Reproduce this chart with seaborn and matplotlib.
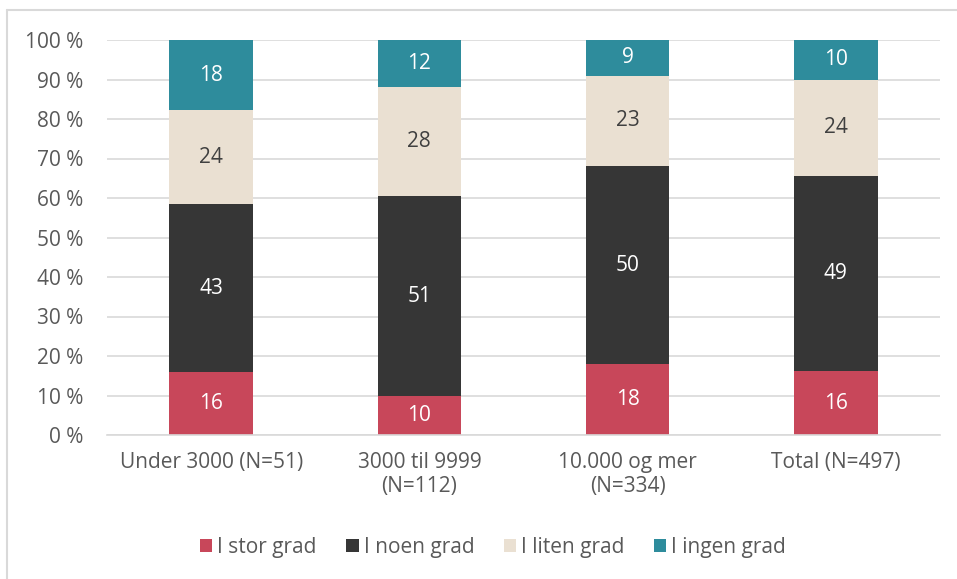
import numpy as np
import pandas as pd
import seaborn as sns
import matplotlib.pyplot as plt
from matplotlib.lines import Line2D
from matplotlib.patches import Patch

groups = ['Under 3000 (N=51)', '3000 til 9999\n(N=112)',
          '10.000 og mer\n(N=334)', 'Total (N=497)']
series = ['I stor grad', 'I noen grad', 'I liten grad', 'I ingen grad']
stor = [16, 10, 18, 16]
noen = [43, 51, 50, 49]
liten = [24, 28, 23, 24]
ingen = [18, 12, 9, 10]
colors = ['#C8475A', '#363636', '#EAE0D2', '#2E8C9C']
text_colors = ['white', 'white', '#404040', 'white']

sns.set_style('white')
plt.rcParams['font.family'] = ['Open Sans', 'DejaVu Sans']

vals = np.array([stor, noen, liten, ingen], dtype=float)
share = vals / vals.sum(axis=0) * 100
cum = share.cumsum(axis=0)

fig = plt.figure(figsize=(9.57, 5.79), dpi=100)
ax = fig.add_axes([107 / 957, 1 - 435 / 579, 833 / 957, 395 / 579])

# draw cumulative bars from the top series down so they stack
for i in reversed(range(len(series))):
    df = pd.DataFrame({'group': groups, 'value': cum[i]})
    sns.barplot(data=df, x='group', y='value', color=colors[i], width=0.4,
                saturation=1, linewidth=0, edgecolor='none', ax=ax, zorder=2)

for j in range(len(groups)):
    for i in range(len(series)):
        mid = cum[i, j] - share[i, j] / 2
        ax.text(j, mid, f'{int(vals[i, j])}', ha='center', va='center',
                color=text_colors[i], fontsize=15)

ax.set_xlim(-0.5, 3.5)
ax.set_ylim(0, 100)
ax.set_yticks(range(0, 101, 10))
ax.set_yticklabels([f'{t} %' for t in range(0, 101, 10)])
ax.set_xlabel('')
ax.set_ylabel('')
ax.yaxis.grid(True, color='#D9D9D9', linewidth=1.2, zorder=0)
ax.set_axisbelow(True)
for s in ['top', 'right', 'left']:
    ax.spines[s].set_visible(False)
ax.spines['bottom'].set_color('#D9D9D9')
ax.spines['bottom'].set_linewidth(1.2)
ax.tick_params(axis='both', length=0, labelsize=15, labelcolor='#595959')
ax.tick_params(axis='y', pad=17)
ax.tick_params(axis='x', pad=12)

handles = [Patch(facecolor=c, edgecolor='none') for c in colors]
fig.legend(handles, series, loc='center', ncol=4,
           bbox_to_anchor=(493 / 957, 1 - 547 / 579), frameon=False,
           fontsize=15, labelcolor='#595959', handlelength=0.6,
           handleheight=0.6, handletextpad=0.25, columnspacing=1.4)

# thin frame around the chart
fig.add_artist(Line2D([7 / 957, 1], [1 - 10 / 579, 1 - 10 / 579],
                      color='#D9D9D9', linewidth=1.5))
fig.add_artist(Line2D([7 / 957, 7 / 957], [0, 1 - 10 / 579],
                      color='#D9D9D9', linewidth=1.5))

fig.savefig('out.png', dpi=100)
